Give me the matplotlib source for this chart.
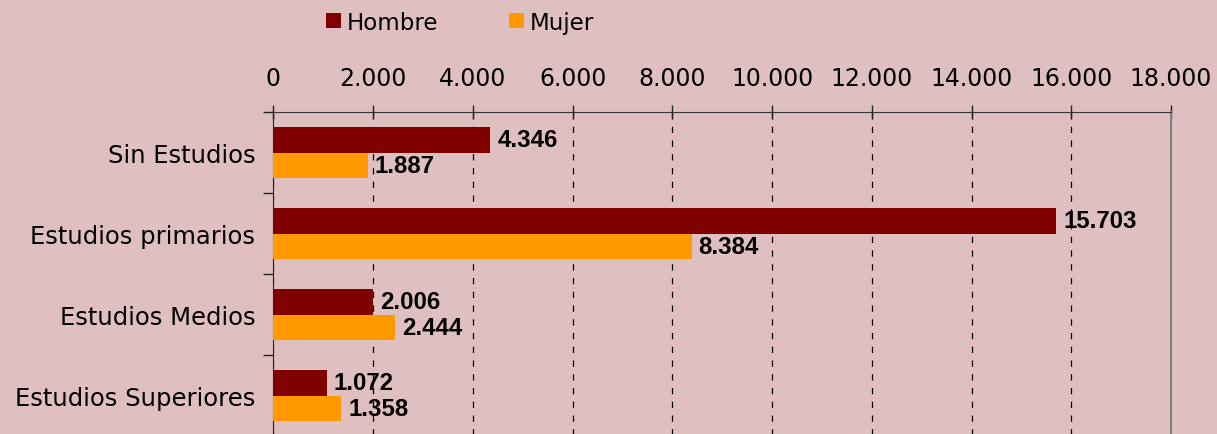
import matplotlib.pyplot as plt
import numpy as np
from matplotlib import font_manager
from matplotlib.ticker import FuncFormatter, MultipleLocator

categorias = ['Sin Estudios', 'Estudios primarios', 'Estudios Medios', 'Estudios Superiores']
hombre = [4346, 15703, 2006, 1072]
mujer = [1887, 8384, 2444, 1358]

fondo = '#dfbfc0'
c_hombre = '#800000'
c_mujer = '#ff9900'


def miles(v, pos=None):
    return f'{int(round(v)):,}'.replace(',', '.')


# Liberation Sans Bold (not the Narrow variant)
fuente_valor = None
for f in font_manager.fontManager.ttflist:
    if (f.name == 'Liberation Sans' and 'Narrow' not in f.fname
            and f.weight in (700, 'bold') and f.style == 'normal'):
        fuente_valor = font_manager.FontProperties(fname=f.fname, size=17.3)
        break
if fuente_valor is None:
    fuente_valor = font_manager.FontProperties(family='DejaVu Sans', weight='bold', size=16)

fig = plt.figure(figsize=(12.17, 4.35), dpi=100, facecolor=fondo)
ax = fig.add_axes([0.2247, -0.0046, 0.7375, 0.7448], facecolor=fondo)

y = np.arange(len(categorias))
h = 0.31
b1 = ax.barh(y - h / 2, hombre, height=h, color=c_hombre, label='Hombre', zorder=3)
b2 = ax.barh(y + h / 2, mujer, height=h, color=c_mujer, label='Mujer', zorder=3)

for barras, vals in ((b1, hombre), (b2, mujer)):
    for b, v in zip(barras, vals):
        ax.text(v + 140, b.get_y() + b.get_height() / 2, miles(v),
                va='center', ha='left', fontproperties=fuente_valor,
                color='black', zorder=4)

ax.set_xlim(0, 18000)
ax.set_ylim(3.5, -0.5)
ax.xaxis.set_major_locator(MultipleLocator(2000))
ax.xaxis.set_major_formatter(FuncFormatter(miles))
ax.xaxis.tick_top()
ax.tick_params(axis='x', direction='inout', length=10, width=1, pad=11,
               labelsize=17, colors='#222222', labelcolor='black')
ax.set_yticks(y)
ax.set_yticklabels(categorias)
ax.set_yticks(np.arange(len(categorias) + 1) - 0.5, minor=True)
ax.tick_params(axis='y', which='major', length=0, pad=13, labelsize=17.5)
ax.tick_params(axis='y', which='minor', length=7, width=1, color='#222222')

ax.grid(axis='x', linestyle=(0, (5, 6)), color='black', linewidth=0.9, zorder=1)
ax.spines['bottom'].set_visible(False)
ax.spines['top'].set_color('#333333')
ax.spines['left'].set_color('#222222')
ax.spines['right'].set_color('#808080')
ax.spines['right'].set_linewidth(1.5)

fig.legend(handles=[b1, b2], labels=['Hombre', 'Mujer'], ncol=2, frameon=False,
           loc='center', bbox_to_anchor=(0.378, 0.947), fontsize=16.5,
           handlelength=0.68, handleheight=0.68, handletextpad=0.25, columnspacing=3.05)

plt.savefig('out.png', dpi=100, facecolor=fondo)
